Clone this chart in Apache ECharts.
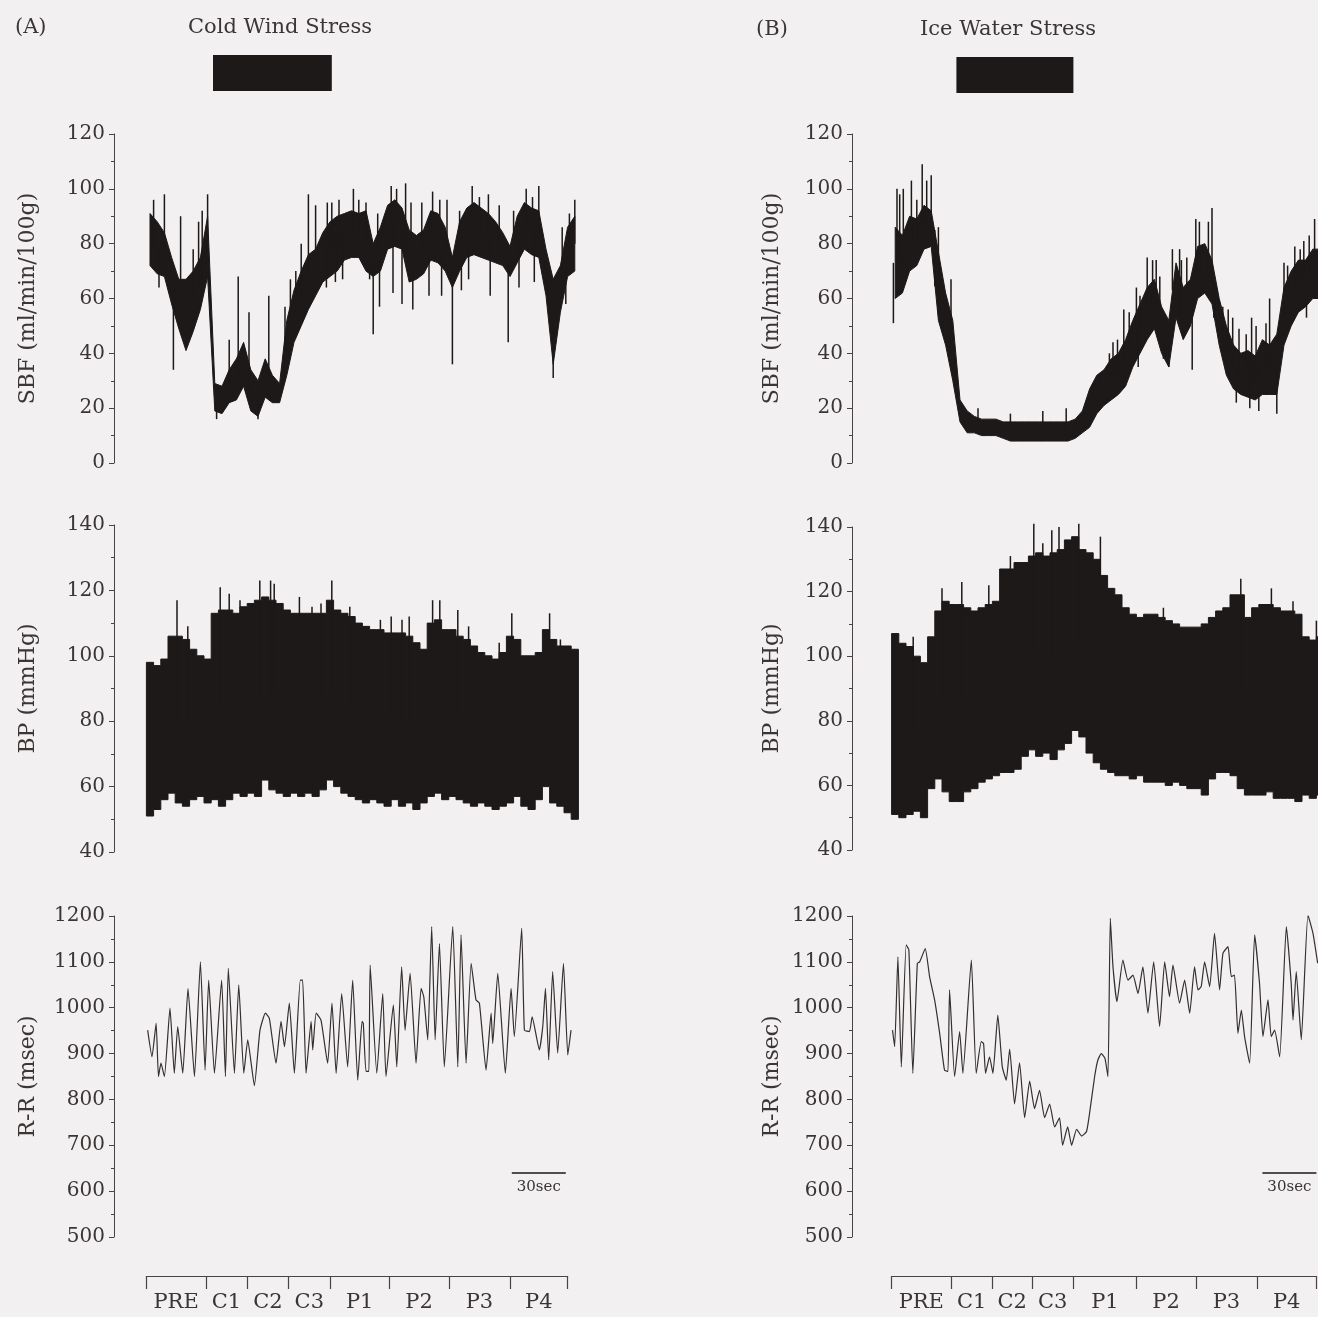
<!DOCTYPE html>
<html>
<head>
<meta charset="utf-8">
<title>Cold wind and ice water stress</title>
<script src="https://cdn.jsdelivr.net/npm/echarts@6/dist/echarts.min.js"></script>
<style>
  html, body { margin: 0; padding: 0; background: #f2f0f0; }
  #chart { width: 1318px; height: 1317px; }
</style>
</head>
<body>
<div id="chart"></div>
<script>
// envelopes are sampled every 4 s, starting 2 s after the trace begins
const sampleStart = 2;
const sampleStep = 4;

const segmentNames = ['PRE', 'C1', 'C2', 'C3', 'P1', 'P2', 'P3', 'P4'];
const segmentEdgesA = [0, 33, 56, 79, 102, 135, 168, 202, 234];
const segmentEdgesB = [0, 33, 56, 78, 101, 136, 169, 203, 236];
const stressA = [37, 103];
const stressB = [36, 101];
const scaleBarA = [203, 233];
const scaleBarB = [206, 236];
const scaleBarLevel = 640;

// (A) cold wind - SBF band (ml/min/100g)
const sbfHiA = [91, 88, 84, 75, 67, 67, 70, 75, 90, 29, 28, 34, 38, 44, 34, 30, 38, 32, 29, 52,
  63, 70, 76, 78, 84, 88, 90, 91, 92, 91, 92, 80, 86, 94, 96, 93, 85, 83, 85, 92,
  91, 86, 75, 88, 93, 95, 93, 91, 88, 84, 79, 90, 95, 93, 92, 78, 67, 72, 86, 90];
const sbfLoA = [72, 69, 68, 58, 49, 41, 48, 56, 68, 19, 18, 22, 23, 28, 19, 17, 24, 22, 22, 32,
  44, 50, 56, 61, 66, 68, 70, 74, 75, 75, 70, 68, 70, 78, 79, 78, 66, 67, 69, 74,
  73, 70, 64, 70, 75, 76, 75, 74, 73, 72, 68, 73, 78, 76, 75, 61, 36, 55, 68, 70];
const sbfSpikeTA = [4, 7, 10, 15, 19, 24, 26, 29, 31, 34, 39, 46, 51, 57, 62, 68, 77, 80, 83, 86,
  90, 94, 100, 100.5, 103, 105, 107, 109, 115, 118, 122, 124, 126, 128.5, 129.5, 132, 136, 137, 139, 142,
  144, 147, 148, 153, 157, 159, 163, 164, 167, 170, 174, 175, 179, 181, 185, 190, 191, 196, 201, 204,
  207, 211, 214.5, 215.5, 218, 226, 231, 233, 235, 238];
const sbfSpikeVA = [96, 64, 98, 34, 90, 51, 78, 88, 92, 98, 16, 45, 68, 55, 16, 61, 57, 67, 70, 80,
  98, 94, 64, 95, 95, 66, 96, 67, 100, 96, 95, 67, 47, 91, 57, 89, 101, 62, 100, 58,
  102, 95, 56, 95, 61, 99, 96, 61, 96, 36, 92, 63, 67, 101, 97, 98, 61, 94, 44, 92,
  64, 100, 97, 66, 101, 31, 86, 58, 91, 96];

// (A) cold wind - BP band (mmHg)
const bpHiA = [98, 97, 99, 106, 106, 105, 102, 100, 99, 113, 114, 114, 113, 115, 116, 117, 118, 117, 116, 114,
  113, 113, 113, 113, 113, 117, 114, 113, 112, 110, 109, 108, 108, 107, 107, 107, 106, 104, 102, 110,
  111, 108, 108, 106, 105, 103, 101, 100, 99, 101, 106, 105, 100, 100, 101, 108, 105, 103, 103, 102];
const bpLoA = [51, 53, 56, 58, 55, 54, 56, 57, 55, 56, 54, 56, 58, 57, 58, 57, 62, 59, 58, 57,
  58, 57, 58, 57, 59, 62, 60, 58, 57, 56, 55, 56, 55, 54, 56, 54, 55, 53, 55, 57,
  58, 56, 57, 56, 55, 54, 55, 54, 53, 54, 55, 57, 54, 53, 56, 60, 55, 54, 52, 50];
const bpSpikeTA = [17, 23, 41, 46, 52, 63, 69, 71, 85, 92, 97, 103, 113, 130, 136, 142, 146, 159, 163, 173,
  179, 196, 203, 224, 230];
const bpSpikeVA = [117, 109, 121, 119, 117, 123, 123, 122, 118, 115, 116, 123, 115, 111, 112, 111, 112, 117, 117, 114,
  109, 104, 113, 113, 105];

// (A) cold wind - R-R interval (msec)
const rrTA = [0.7, 3.1, 5.4, 6.7, 8.1, 10, 13.1, 15.5, 17.4, 20.2, 23.1, 26.7, 30, 32.6, 34.6, 37.8, 41.8, 43.9, 45.5, 48.9,
  51.3, 54.1, 56.3, 60, 63.1, 66.1, 68.3, 72, 74.8, 76.7, 79.4, 82.2, 85.5, 86.8, 88.7, 91.5, 92.4, 94.3, 97, 100.7,
  103.1, 105.4, 108.5, 111.8, 114.6, 117.4, 119.8, 120.5, 122, 123.6, 124.3, 128, 131.3, 133.1, 137.2, 139.1, 141.8, 143.7, 146.5, 149.8,
  152.6, 154.1, 156.3, 158.5, 160.4, 162.8, 165.5, 170.2, 173, 174.8, 177.6, 180.4, 183.1, 185, 188.7, 191.5, 192.4, 195.2, 199.4, 202.6,
  204.4, 208.5, 210, 212.8, 214.3, 218.3, 220.2, 221.7, 223.5, 225.7, 228.5, 231.7, 234.1, 235.9];
const rrVA = [951, 893, 966, 850, 879, 850, 999, 857, 959, 857, 1042, 850, 1100, 864, 1060, 857, 1060, 850, 1086, 857,
  1050, 857, 930, 830, 951, 988, 977, 879, 970, 915, 1010, 857, 1060, 1060, 857, 970, 908, 988, 973, 879,
  1010, 857, 1031, 871, 1060, 842, 970, 966, 861, 861, 1093, 857, 1031, 850, 1006, 871, 1089, 951, 1075, 879,
  1042, 1024, 930, 1177, 930, 1140, 871, 1177, 871, 1159, 879, 1097, 1017, 1010, 864, 988, 922, 1075, 857, 1042,
  937, 1173, 951, 948, 980, 908, 959, 1042, 886, 1079, 901, 1097, 897, 951];

// (B) ice water - SBF band
const sbfHiB = [86, 83, 90, 89, 94, 92, 77, 62, 52, 23, 19, 17, 16, 16, 16, 15, 15, 15, 15, 15,
  15, 15, 15, 15, 15, 16, 19, 27, 32, 34, 38, 40, 45, 52, 58, 64, 67, 57, 52, 73,
  64, 67, 79, 80, 74, 60, 50, 43, 40, 41, 39, 45, 43, 47, 64, 70, 74, 74, 78, 78];
const sbfLoB = [60, 62, 70, 72, 78, 79, 52, 43, 30, 15, 11, 11, 10, 10, 10, 9, 8, 8, 8, 8,
  8, 8, 8, 8, 8, 9, 11, 13, 18, 21, 23, 25, 28, 35, 40, 45, 49, 40, 35, 53,
  45, 50, 60, 62, 58, 43, 32, 27, 25, 24, 23, 25, 25, 25, 43, 50, 55, 57, 60, 60];
const sbfSpikeTB = [1, 3, 4.5, 6.5, 11, 14, 17, 19.5, 22, 24, 26, 33, 48, 66, 84, 97, 115.5, 121, 123, 125.5,
  129, 132, 136, 137, 138, 142, 145, 147, 149, 151, 154, 156, 160, 161, 164, 167, 169, 171, 176, 178,
  179, 180.5, 184, 187, 189.5, 191.5, 193, 197, 199, 200, 202.5, 204, 208, 210, 214, 218, 220, 224, 227, 229,
  230.5, 232, 235];
const sbfSpikeVB = [51, 100, 98, 100, 103, 96, 109, 103, 105, 85, 86, 67, 20, 18, 19, 20, 32, 40, 44, 45,
  56, 55, 64, 35, 61, 75, 74, 74, 68, 38, 35, 78, 78, 74, 75, 34, 89, 88, 88, 93,
  53, 63, 57, 56, 53, 22, 49, 47, 20, 53, 50, 19, 51, 60, 18, 73, 72, 79, 78, 81,
  53, 83, 89];

// (B) ice water - BP band
const bpHiB = [107, 104, 103, 100, 98, 106, 114, 117, 116, 116, 115, 114, 115, 116, 117, 127, 127, 129, 129, 131,
  132, 131, 132, 133, 136, 137, 133, 132, 130, 125, 121, 119, 115, 113, 112, 113, 113, 112, 111, 110,
  109, 109, 109, 110, 112, 114, 115, 119, 119, 112, 115, 116, 116, 115, 114, 114, 113, 106, 105, 106];
const bpLoB = [51, 50, 51, 52, 50, 59, 62, 58, 55, 55, 58, 59, 61, 62, 63, 64, 64, 65, 69, 71,
  69, 70, 68, 71, 73, 77, 75, 70, 67, 65, 64, 63, 63, 62, 63, 61, 61, 61, 60, 61,
  60, 59, 59, 57, 62, 64, 64, 63, 59, 57, 57, 57, 58, 56, 56, 56, 55, 57, 56, 57];
const bpSpikeTB = [12, 28, 39, 54, 66, 79, 84, 89, 93, 104, 116, 151, 194, 211, 223, 236];
const bpSpikeVB = [106, 121, 123, 122, 131, 141, 135, 139, 140, 141, 137, 115, 124, 121, 117, 111];

// (B) ice water - R-R interval
const rrTB = [0.5, 1.7, 3.5, 5.4, 8.1, 9.6, 11.8, 14.3, 15.6, 18.7, 21.1, 23.9, 26.7, 29.4, 31.3, 32.2, 35, 37.8, 39.6, 44.3,
  47, 49.8, 51.1, 52.2, 54.4, 56.3, 59, 61.5, 63.7, 65.6, 68.3, 71.1, 73.9, 76.7, 79.4, 82.2, 85, 87.8, 90.6, 93.3,
  95, 97.8, 100, 102.8, 105.6, 108.3, 110, 112.8, 114.6, 116.5, 118.5, 120.2, 121.5, 123, 125.2, 128.5, 131.3, 134.1, 136.9, 139.6,
  142.4, 145.6, 148.9, 151.7, 154.4, 156.3, 160, 162.8, 165.6, 168.3, 170.2, 172, 173.9, 176.7, 179.4, 182.2, 184.1, 186.9, 188.7, 190.5,
  192.4, 194.3, 196.1, 198.9, 201.7, 204.4, 206.3, 209.1, 210.9, 212.8, 215.6, 219.3, 222, 223, 224.8, 227.6, 231.3, 234.1, 236.7];
const rrVB = [951, 915, 1111, 871, 1137, 1126, 857, 1097, 1100, 1129, 1068, 1017, 944, 864, 861, 1039, 850, 948, 857, 1104,
  857, 926, 922, 857, 893, 857, 984, 871, 842, 910, 790, 880, 760, 840, 780, 820, 760, 790, 740, 760,
  700, 740, 700, 735, 720, 730, 770, 850, 886, 900, 890, 850, 1195, 1089, 1013, 1104, 1060, 1071, 1031, 1089,
  988, 1100, 959, 1100, 1024, 1093, 1010, 1060, 988, 1089, 1039, 1046, 1100, 1046, 1162, 1039, 1119, 1133, 1068, 1071,
  944, 995, 937, 879, 1159, 1053, 937, 1017, 937, 951, 893, 1177, 1053, 973, 1079, 930, 1202, 1162, 1097];

const INK = '#1e1919';
const TEXT = '#3b3535';
const AXIS = '#4a4343';
const FONT = 'DejaVu Serif';
const PX_PER_SEC = 1.8;

const panels = [
  {
    tag: '(A)', tagX: 10, title: 'Cold Wind Stress', titleX: 275, titleY: 12,
    left: 114, xMin: -18, xMax: 240, nameGap: 75, barTop: 55,
    bpTop: 525, bpHeight: 327,
    stress: stressA, edges: segmentEdgesA, scaleBar: scaleBarA,
    sbfHi: sbfHiA, sbfLo: sbfLoA, sbfSpikeT: sbfSpikeTA, sbfSpikeV: sbfSpikeVA,
    bpHi: bpHiA, bpLo: bpLoA, bpSpikeT: bpSpikeTA, bpSpikeV: bpSpikeVA,
    rrT: rrTA, rrV: rrVA
  },
  {
    tag: '(B)', tagX: 751, title: 'Ice Water Stress', titleX: 1003, titleY: 14,
    left: 852, xMin: -22, xMax: 240, nameGap: 69, barTop: 57,
    bpTop: 527, bpHeight: 323,
    stress: stressB, edges: segmentEdgesB, scaleBar: scaleBarB,
    sbfHi: sbfHiB, sbfLo: sbfLoB, sbfSpikeT: sbfSpikeTB, sbfSpikeV: sbfSpikeVB,
    bpHi: bpHiB, bpLo: bpLoB, bpSpikeT: bpSpikeTB, bpSpikeV: bpSpikeVB,
    rrT: rrTB, rrV: rrVB
  }
];

const textStyle = { color: TEXT, fontFamily: FONT, fontSize: 20, fontWeight: 'normal' };

// the whole band is one polygon; stepped bands hold each sample over its 4 s slot
function bandSeries(axisIndex, hi, lo, stepped) {
  const rows = hi.map((h, i) => [sampleStart + i * sampleStep, h, lo[i]]);
  return {
    type: 'custom',
    xAxisIndex: axisIndex,
    yAxisIndex: axisIndex,
    silent: true,
    data: rows,
    encode: { x: 0, y: [1, 2] },
    renderItem: (params, api) => {
      if (params.dataIndex !== 0) return null;
      const half = stepped ? sampleStep / 2 : 0;
      const top = [];
      const bottom = [];
      rows.forEach((r) => {
        top.push(api.coord([r[0] - half, r[1]]), api.coord([r[0] + half, r[1]]));
        bottom.push(api.coord([r[0] - half, r[2]]), api.coord([r[0] + half, r[2]]));
      });
      return {
        type: 'polygon',
        shape: { points: top.concat(bottom.reverse()) },
        style: { fill: INK, stroke: INK, lineWidth: 1 }
      };
    }
  };
}

function spikeSeries(axisIndex, ts, vs, hi, lo) {
  const rows = ts.map((t, i) => {
    const k = Math.min(hi.length - 1, Math.max(0, Math.round((t - sampleStart) / sampleStep)));
    return [t, (hi[k] + lo[k]) / 2, vs[i]];
  });
  return {
    type: 'custom',
    xAxisIndex: axisIndex,
    yAxisIndex: axisIndex,
    silent: true,
    data: rows,
    encode: { x: 0, y: [1, 2] },
    renderItem: (params, api) => {
      const a = api.coord([api.value(0), api.value(1)]);
      const b = api.coord([api.value(0), api.value(2)]);
      return {
        type: 'line',
        shape: { x1: a[0], y1: a[1], x2: b[0], y2: b[1] },
        style: { stroke: INK, lineWidth: 1.5 }
      };
    }
  };
}

function valueAxis(gridIndex, min, max, interval, name, nameGap) {
  return {
    type: 'value',
    gridIndex,
    min,
    max,
    interval,
    position: 'left',
    name,
    nameLocation: 'middle',
    nameGap,
    nameTextStyle: { ...textStyle, fontSize: 22 },
    axisLine: { show: true, onZero: false, lineStyle: { color: AXIS, width: 1 } },
    axisTick: { show: true, inside: false, length: 5, lineStyle: { color: AXIS } },
    minorTick: { show: true, splitNumber: 2, length: 3, lineStyle: { color: AXIS } },
    axisLabel: { ...textStyle, margin: 9, formatter: (v) => String(v) },
    splitLine: { show: false }
  };
}

const grid = [];
const xAxis = [];
const yAxis = [];
const series = [];
const title = [];

panels.forEach((p) => {
  const width = (p.xMax - p.xMin) * PX_PER_SEC;
  const base = grid.length;
  const box = (top, height, left = p.left, w = width) => ({ left, top, width: w, height, outerBoundsMode: 'none', containLabel: false });
  const hiddenX = (gi) => ({ type: 'value', gridIndex: gi, min: p.xMin, max: p.xMax, show: false });

  title.push({ text: p.tag, left: p.tagX, top: p.titleY, textStyle: { ...textStyle, fontSize: 21 } });
  title.push({ text: p.title, left: p.titleX, top: p.titleY, textAlign: 'center', textStyle: { ...textStyle, fontSize: 21 } });

  // stress period bar
  grid.push(box(p.barTop, 36));
  xAxis.push(hiddenX(base));
  yAxis.push({ type: 'value', gridIndex: base, min: 0, max: 1, show: false });
  series.push({
    type: 'custom',
    xAxisIndex: base,
    yAxisIndex: base,
    silent: true,
    data: [p.stress],
    encode: { x: [0, 1] },
    renderItem: (params, api) => {
      const a = api.coord([api.value(0), 1]);
      const b = api.coord([api.value(1), 0]);
      return { type: 'rect', shape: { x: a[0], y: a[1], width: b[0] - a[0], height: b[1] - a[1] }, style: { fill: INK } };
    }
  });

  // SBF
  grid.push(box(134, 329));
  xAxis.push(hiddenX(base + 1));
  yAxis.push(valueAxis(base + 1, 0, 120, 20, 'SBF (ml/min/100g)', p.nameGap));
  series.push(bandSeries(base + 1, p.sbfHi, p.sbfLo, false));
  series.push(spikeSeries(base + 1, p.sbfSpikeT, p.sbfSpikeV, p.sbfHi, p.sbfLo));

  // BP
  grid.push(box(p.bpTop, p.bpHeight));
  xAxis.push(hiddenX(base + 2));
  yAxis.push(valueAxis(base + 2, 40, 140, 20, 'BP (mmHg)', p.nameGap));
  series.push(bandSeries(base + 2, p.bpHi, p.bpLo, true));
  series.push(spikeSeries(base + 2, p.bpSpikeT, p.bpSpikeV, p.bpHi, p.bpLo));

  // R-R
  grid.push(box(916, 321));
  xAxis.push(hiddenX(base + 3));
  yAxis.push(valueAxis(base + 3, 500, 1200, 100, 'R-R (msec)', p.nameGap));
  series.push({
    type: 'line',
    xAxisIndex: base + 3,
    yAxisIndex: base + 3,
    silent: true,
    data: p.rrT.map((t, i) => [t, p.rrV[i]]),
    showSymbol: false,
    smooth: 0.15,
    lineStyle: { color: '#352f2f', width: 1.2 },
    markLine: {
      silent: true,
      symbol: 'none',
      lineStyle: { color: INK, width: 1.5, type: 'solid' },
      label: { show: true, formatter: '30sec', position: 'insideMiddleBottom', distance: 7, color: TEXT, fontFamily: FONT, fontSize: 15 },
      data: [[{ coord: [p.scaleBar[0], scaleBarLevel] }, { coord: [p.scaleBar[1], scaleBarLevel] }]]
    }
  });

  // period bracket
  const edges = p.edges;
  const mids = segmentNames.map((_, i) => (edges[i] + edges[i + 1]) / 2);
  const span = edges[edges.length - 1];
  grid.push(box(1266, 10, p.left - p.xMin * PX_PER_SEC, span * PX_PER_SEC));
  xAxis.push({
    type: 'value',
    gridIndex: base + 4,
    min: 0,
    max: span,
    position: 'bottom',
    axisLine: { show: true, lineStyle: { color: AXIS, width: 1.2 } },
    axisTick: { show: true, inside: false, length: 13, customValues: edges, lineStyle: { color: AXIS, width: 1.2 } },
    axisLabel: {
      ...textStyle,
      fontSize: 21,
      margin: 16,
      customValues: mids,
      formatter: (v) => {
        const i = mids.findIndex((m) => Math.abs(m - v) < 0.01);
        return i >= 0 ? segmentNames[i] : '';
      }
    },
    splitLine: { show: false }
  });
  yAxis.push({ type: 'value', gridIndex: base + 4, min: 0, max: 1, show: false });
});

const chart = echarts.init(document.getElementById('chart'), null, { renderer: 'canvas' });
chart.setOption({
  backgroundColor: '#f2f0f0',
  animation: false,
  title,
  grid,
  xAxis,
  yAxis,
  series
});
window.addEventListener('resize', () => chart.resize());
</script>
</body>
</html>
